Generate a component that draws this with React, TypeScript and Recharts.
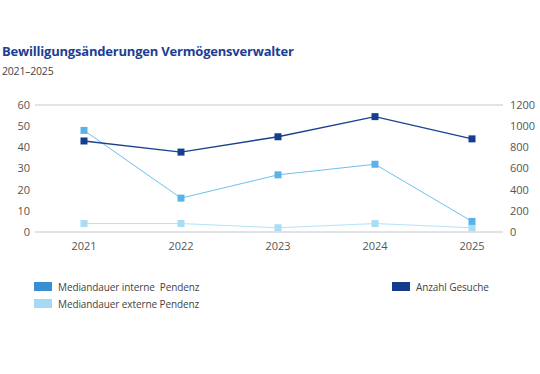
import { CartesianGrid, Line, LineChart, XAxis, YAxis } from "recharts";

const years = ["2021", "2022", "2023", "2024", "2025"];
const interne = [48, 16, 27, 32, 5];
const externe = [4, 4, 2, 4, 2];
const gesuche = [860, 755, 900, 1090, 880];
const leftTicks = [0, 10, 20, 30, 40, 50, 60];
const rightTicks = [0, 200, 400, 600, 800, 1000, 1200];

const data = years.map((year, i) => ({
  year,
  interne: interne[i],
  externe: externe[i],
  gesuche: gesuche[i],
}));

const font = "'Open Sans', 'Noto Sans', sans-serif";
const axisTick = { fontSize: 11, fill: "#555", fontFamily: font };

const squareDot = (fill: string, size: number) => (props: any) => {
  const { cx, cy, key } = props;
  if (cx == null || cy == null) return <g key={key} />;
  return <rect key={key} x={cx - size / 2} y={cy - size / 2} width={size} height={size} fill={fill} />;
};

function LegendItem({ color, label }: { color: string; label: string }) {
  return (
    <div style={{ display: "flex", alignItems: "center", height: 17 }}>
      <span style={{ width: 18, height: 9, background: color, marginRight: 6 }} />
      <span style={{ fontSize: 10, letterSpacing: -0.1, color: "#444", whiteSpace: "pre" }}>{label}</span>
    </div>
  );
}

export default function App() {
  return (
    <div style={{ position: "absolute", left: 0, top: 0, width: 540, height: 374, background: "#fff", fontFamily: font }}>
      <div
        style={{
          position: "absolute",
          left: 2,
          top: 42,
          fontSize: 13,
          letterSpacing: -0.2,
          fontWeight: 700,
          color: "#1b3e94",
          whiteSpace: "nowrap",
        }}
      >
        Bewilligungsänderungen Vermögensverwalter
      </div>
      <div style={{ position: "absolute", left: 2, top: 64, fontSize: 10.5, letterSpacing: -0.2, color: "#444" }}>
        2021–2025
      </div>
      <div style={{ position: "absolute", left: 0, top: 0 }}>
        <LineChart width={540} height={374} data={data} margin={{ top: 105, right: 0, bottom: 112, left: 0 }}>
          <CartesianGrid stroke="#d9d9e2" strokeWidth={1.3} vertical={false} />
          <XAxis
            dataKey="year"
            axisLine={false}
            tickLine={false}
            tickSize={0}
            tickMargin={10}
            height={30}
            padding={{ left: 49, right: 31 }}
            tick={axisTick}
          />
          <YAxis
            yAxisId="left"
            domain={[0, 60]}
            ticks={leftTicks}
            axisLine={false}
            tickLine={false}
            tickSize={0}
            tickMargin={5}
            width={35}
            tick={axisTick}
          />
          <YAxis
            yAxisId="right"
            orientation="right"
            domain={[0, 1200]}
            ticks={rightTicks}
            axisLine={false}
            tickLine={false}
            tickSize={0}
            tickMargin={7}
            width={37}
            tick={{ ...axisTick, textAnchor: "start" }}
          />
          <Line
            yAxisId="left"
            dataKey="externe"
            stroke="#b5e2f7"
            strokeWidth={1}
            dot={squareDot("#a9dcf5", 7)}
            isAnimationActive={false}
          />
          <Line
            yAxisId="left"
            dataKey="interne"
            stroke="#6ec0ee"
            strokeWidth={1}
            dot={squareDot("#5ab3e8", 7)}
            isAnimationActive={false}
          />
          <Line
            yAxisId="right"
            dataKey="gesuche"
            stroke="#1a428f"
            strokeWidth={1.4}
            dot={squareDot("#153e90", 7)}
            isAnimationActive={false}
          />
        </LineChart>
      </div>
      <div style={{ position: "absolute", left: 34, top: 278 }}>
        <LegendItem color="#3a8fd3" label="Mediandauer interne  Pendenz" />
        <LegendItem color="#a6daf4" label="Mediandauer externe Pendenz" />
      </div>
      <div style={{ position: "absolute", left: 392, top: 278 }}>
        <LegendItem color="#133c8c" label="Anzahl Gesuche" />
      </div>
    </div>
  );
}
